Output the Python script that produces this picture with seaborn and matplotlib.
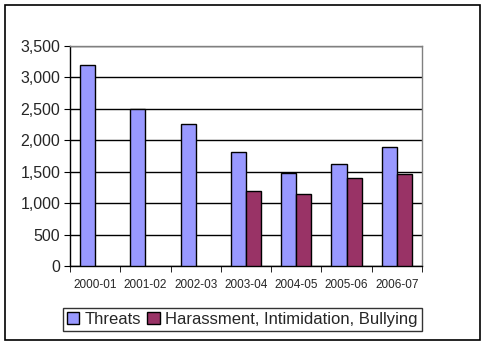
import matplotlib
matplotlib.use("Agg")
import matplotlib.pyplot as plt
import seaborn as sns
import pandas as pd
import numpy as np
from matplotlib.patches import Rectangle
from matplotlib.ticker import FuncFormatter, MultipleLocator

years = ["2000-01", "2001-02", "2002-03", "2003-04", "2004-05", "2005-06", "2006-07"]
threats = [3200, 2500, 2250, 1810, 1485, 1620, 1890]
harassment = [np.nan, np.nan, np.nan, 1190, 1140, 1395, 1460]
series = ["Threats", "Harassment, Intimidation, Bullying"]
colors = ["#9999FF", "#993366"]

df = pd.DataFrame({
    "year": years * 2,
    "value": threats + harassment,
    "series": [series[0]] * len(years) + [series[1]] * len(years),
})

sns.set_style("white")
plt.rcParams["font.family"] = ["Liberation Sans", "DejaVu Sans"]

fig = plt.figure(figsize=(4.87, 3.46), dpi=100)
ax = fig.add_axes([0.1437, 0.2303, 0.7228, 0.6376])

sns.barplot(data=df, x="year", y="value", hue="series", hue_order=series,
            palette=colors, width=0.6, edgecolor="black", linewidth=1,
            saturation=1, errorbar=None, ax=ax, zorder=3)

ax.set_ylim(0, 3500)
ax.set_xlim(-0.5, len(years) - 0.5)
ax.yaxis.set_major_locator(MultipleLocator(500))
ax.yaxis.set_major_formatter(FuncFormatter(lambda v, p: f"{int(v):,}"))
ax.grid(axis="y", color="black", linewidth=1, zorder=0)
ax.set_axisbelow(True)
ax.set_xlabel("")
ax.set_ylabel("")

for s in ["left", "bottom"]:
    ax.spines[s].set_color("black")
    ax.spines[s].set_linewidth(1)
for s in ["top", "right"]:
    ax.spines[s].set_color("#808080")
    ax.spines[s].set_linewidth(1)

ax.tick_params(axis="y", labelsize=11.5, length=4, direction="out", left=True, color="black", pad=3)
ax.tick_params(axis="x", labelsize=8.5, length=0, pad=9)
# category-boundary tick marks on x-axis
ax.set_xticks(np.arange(-0.5, len(years) + 0.5, 1), minor=True)
ax.tick_params(axis="x", which="minor", length=4, direction="out", bottom=True, color="black")

handles, labels = ax.get_legend_handles_labels()
ax.legend_.remove()
leg = fig.legend(handles, labels, loc="center", bbox_to_anchor=(0.497, 0.077),
                 ncol=2, fontsize=12, frameon=True, fancybox=False,
                 edgecolor="black", handlelength=0.75, handleheight=0.75,
                 handletextpad=0.3, columnspacing=0.4, borderpad=0.25,
                 borderaxespad=0)
leg.get_frame().set_linewidth(1)

fig.patches.append(Rectangle((5 / 487, 6 / 346), 475 / 487, 335 / 346,
                             transform=fig.transFigure, fill=False,
                             edgecolor="black", linewidth=1.2))

fig.savefig("out.png", dpi=100)
